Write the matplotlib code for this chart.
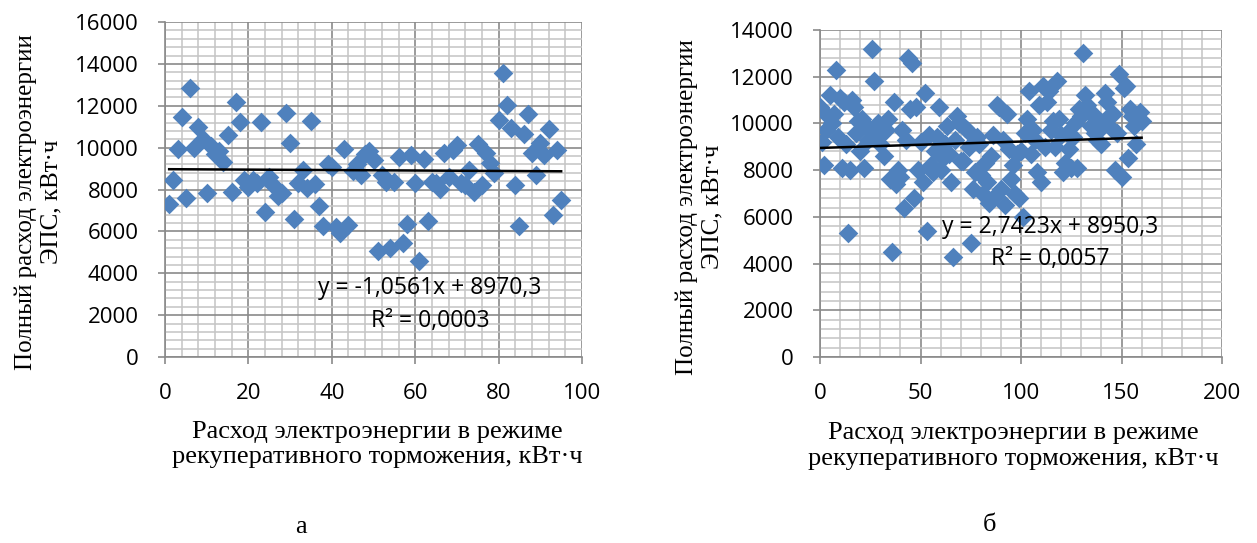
import matplotlib
matplotlib.use("Agg")
import matplotlib.pyplot as plt
import numpy as np
from matplotlib.ticker import MultipleLocator

# --- chart a: values ---
a_x = list(range(1, 96))
a_y = [7300, 8450, 9950, 11480, 7610, 12870, 9970, 11000, 10400, 7820,
       10100, 9700, 9850, 9300, 10600, 7900, 12170, 11240, 8450, 8140,
       8450, 8290, 11210, 6910, 8580, 8210, 7690, 7850, 11670, 10200,
       6590, 8290, 8930, 8060, 11290, 8250, 7230, 6260, 9220, 9090,
       6220, 5910, 9930, 6300, 8900, 9200, 8700, 9700, 9850, 9410,
       5050, 8690, 8370, 5190, 8370, 9540, 5430, 6350, 9650, 8290,
       4600, 9440, 6500, 8370, 8290, 8020, 9760, 8610, 9900, 10120,
       8290, 8210, 8930, 7900, 10170, 8210, 9730, 9280, 8770, 11320,
       13550, 12040, 10920, 8210, 6270, 10650, 11610, 9730, 8690, 10240,
       9650, 10870, 6780, 9890, 7500]
a_trend = (-1.0561, 8970.3)
a_eq = "y = -1,0561x + 8970,3"
a_r2 = "R² = 0,0003"

# --- chart б ---
b_x = list(range(0, 161))
b_y = [10700, 9200, 8200, 9700, 10300, 11200, 10000, 10400, 12300, 9400,
       11100, 8100, 10900, 9100, 5300, 8000, 11000, 10700, 9600, 10100,
       8800, 10200, 8100, 9900, 9300, 9700, 13200, 11800, 9500, 10000,
       9100, 9600, 8600, 9700, 10200, 7600, 4500, 10900, 7400, 8000,
       7700, 9700, 6400, 9300, 12800, 10600, 12600, 6800, 10700, 8000,
       9200, 7500, 11300, 5400, 9500, 8200, 7900, 8800, 9400, 10700,
       8000, 8500, 9100, 9900, 8700, 7500, 4300, 9300, 10300, 10000,
       8400, 8400, 9800, 9700, 9000, 4900, 7200, 7900, 9400, 9100,
       7800, 7000, 8300, 7500, 6600, 8600, 9500, 6900, 10800, 10700,
       7200, 9300, 6500, 10400, 8900, 7600, 8200, 7000, 8700, 6800,
       8800, 6000, 9600, 10200, 11400, 8700, 9700, 9300, 7900, 10800,
       7500, 11600, 9000, 10900, 11400, 9700, 10100, 9000, 11800, 10200,
       9500, 7900, 8300, 9600, 8900, 8100, 9400, 10000, 8100, 10600,
       10300, 13000, 11200, 10800, 10500, 9900, 10400, 9600, 9300, 10000,
       9100, 9900, 11300, 10900, 10300, 9800, 10400, 8000, 9600, 12100,
       7700, 11500, 11600, 8500, 10600, 10300, 9900, 9100, 10100, 10500,
       10100]
b_trend = (2.7423, 8950.3)
b_eq = "y = 2,7423x + 8950,3"
b_r2 = "R² = 0,0057"

ylabel = "Полный расход электроэнергии\nЭПС, кВт·ч"
xlabel = "Расход электроэнергии в режиме\nрекуперативного торможения, кВт·ч"

serif = "Liberation Serif"
sans = "Open Sans"
plt.rcParams["font.family"] = [sans, "DejaVu Sans"]

W, H = 1257, 543
fig = plt.figure(figsize=(W / 100, H / 100), dpi=100)

blue = "#4F81BD"


def px_axes(x0, x1, y0, y1):
    # pixel box -> figure fraction
    return fig.add_axes([x0 / W, (H - y1) / H, (x1 - x0) / W, (y1 - y0) / H])


def setup(ax, xmax, xmaj, xmin, ymax):
    ax.set_xlim(0, xmax)
    ax.set_ylim(0, ymax)
    ax.xaxis.set_major_locator(MultipleLocator(xmaj))
    ax.xaxis.set_minor_locator(MultipleLocator(xmin))
    ax.yaxis.set_major_locator(MultipleLocator(2000))
    ax.yaxis.set_minor_locator(MultipleLocator(400))
    ax.grid(which="minor", color="#C4C4C4", lw=1.1)
    ax.grid(which="major", color="#8A8A8A", lw=1.2)
    ax.set_axisbelow(True)
    for s in ("top", "right"):
        ax.spines[s].set_visible(False)
    for s in ("left", "bottom"):
        ax.spines[s].set_color("#8A8A8A")
        ax.spines[s].set_linewidth(1.2)
    ax.tick_params(which="major", direction="out", length=5, width=1.2,
                   color="#8A8A8A", labelsize=16, pad=14)
    ax.tick_params(which="minor", length=0)
    ax.set_ylabel(ylabel, fontfamily=serif, fontsize=18, linespacing=1.2)
    ax.set_xlabel(xlabel, fontfamily=serif, fontsize=19, linespacing=1.2)


def draw(ax, xs, ys, trend):
    ax.scatter(xs, ys, marker="D", s=100, color=blue, linewidths=0, zorder=3)
    k, b = trend
    tx = np.array([min(xs), max(xs)])
    ax.plot(tx, k * tx + b, color="black", lw=1.8, zorder=4)


ax1 = px_axes(165, 582, 22, 357)
setup(ax1, 100, 20, 4, 16000)
draw(ax1, a_x, a_y, a_trend)
ax1.yaxis.set_label_coords(-0.245, 0.463)
ax1.xaxis.set_label_coords(0.51, -0.19)

ax2 = px_axes(820, 1222, 30, 357)
setup(ax2, 200, 50, 10, 14000)
draw(ax2, b_x, b_y, b_trend)
ax2.yaxis.set_label_coords(-0.241, 0.459)
ax2.xaxis.set_label_coords(0.48, -0.2)

# trendline equations
fig.text(430 / W, 1 - 288 / H, a_eq, ha="center", va="center", fontsize=16.5)
fig.text(430 / W, 1 - 321 / H, a_r2, ha="center", va="center", fontsize=16.5)
fig.text(1050 / W, 1 - 227 / H, b_eq, ha="center", va="center", fontsize=16.5)
fig.text(1050 / W, 1 - 259 / H, b_r2, ha="center", va="center", fontsize=16.5)

# sub-figure letters
fig.text(301 / W, 1 - 527 / H, "а", ha="center", va="center", fontsize=19, fontfamily=serif)
fig.text(990 / W, 1 - 525 / H, "б", ha="center", va="center", fontsize=19, fontfamily=serif)

fig.savefig("out.png", dpi=100)
